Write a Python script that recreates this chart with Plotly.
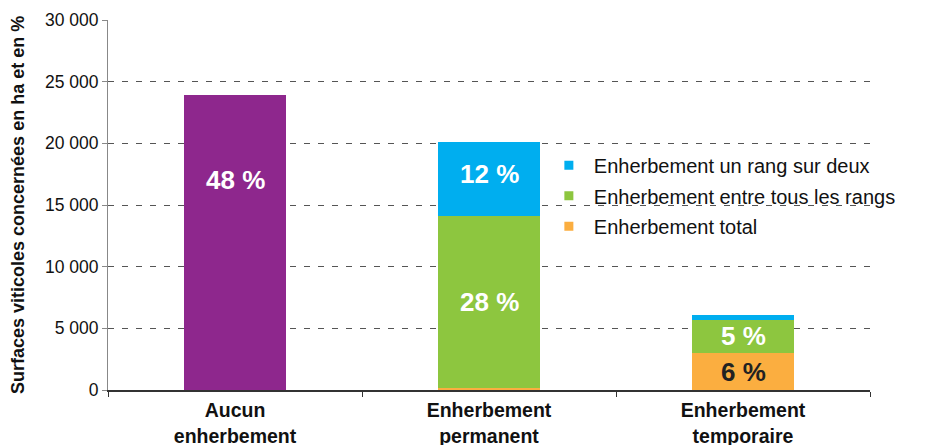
import plotly.graph_objects as go

categories = ["Aucun<br>enherbement", "Enherbement<br>permanent", "Enherbement<br>temporaire"]
aucun = [23900, 0, 0]
total = [0, 200, 3000]
entre_tous = [0, 13900, 2700]
un_sur_deux = [0, 6000, 400]
pct_aucun = ["48 %", "", ""]
pct_total = ["", "", "6 %"]
pct_entre = ["", "28 %", "5 %"]
pct_un = ["", "12 %", ""]
y_ticks = [0, 5000, 10000, 15000, 20000, 25000, 30000]
y_ticklabels = ["0", "5 000", "10 000", "15 000", "20 000", "25 000", "30 000"]

PURPLE = "#8E278D"
BLUE = "#00AEEF"
GREEN = "#8DC63F"
ORANGE = "#FBAE40"
FONT = "Arial"

fig = go.Figure()
for vals, color in [(aucun, PURPLE), (total, ORANGE), (entre_tous, GREEN), (un_sur_deux, BLUE)]:
    fig.add_trace(go.Bar(x=categories, y=vals, marker=dict(color=color, line=dict(width=0)),
                         width=0.4, showlegend=False, hoverinfo="skip"))

for i, (name, color) in enumerate([("Enherbement un rang sur deux", BLUE),
                                   ("Enherbement entre tous les rangs", GREEN),
                                   ("Enherbement total", ORANGE)]):
    fig.add_trace(go.Scatter(x=[None], y=[None], mode="markers", name=name,
                             legendgroup="g%d" % i,
                             marker=dict(symbol="square", size=9, color=color)))

annotations = []
for i, c in enumerate(categories):
    base = 0
    segs = [(aucun, pct_aucun, "white"), (total, pct_total, "#222222"),
            (entre_tous, pct_entre, "white"), (un_sur_deux, pct_un, "white")]
    for vals, labels, col in segs:
        v = vals[i]
        if labels[i]:
            shift = 63 if labels is pct_aucun else (5 if labels is pct_un else 0)
            annotations.append(dict(x=c, y=base + v / 2, text="<b>%s</b>" % labels[i],
                                    showarrow=False, yshift=shift,
                                    font=dict(family=FONT, size=26, color=col)))
        base += v

annotations.append(dict(x=0, y=0.5, xref="paper", yref="paper", xshift=-90,
                        xanchor="center", yanchor="middle",
                        text="<b>Surfaces viticoles concernées en ha et en %</b>",
                        textangle=-90, showarrow=False,
                        font=dict(family=FONT, size=18, color="#111111")))

fig.update_layout(
    barmode="stack",
    width=925, height=445,
    margin=dict(l=108, r=55, t=20, b=55),
    paper_bgcolor="white", plot_bgcolor="white",
    font=dict(family=FONT, color="#111111"),
    annotations=annotations,
    legend=dict(x=0.572, y=0.66, xanchor="left", yanchor="top", traceorder="grouped",
                font=dict(family=FONT, size=20, color="#111111"),
                bgcolor="rgba(0,0,0,0)", itemwidth=40, tracegroupgap=1.5),
    xaxis=dict(showline=True, linecolor="#333333", linewidth=1.5, ticks="outside",
               tickson="boundaries", ticklen=5, tickcolor="#333333",
               tickvals=categories,
               ticktext=["<br>".join("<b>%s</b>" % p for p in c.split("<br>")) for c in categories],
               tickfont=dict(family=FONT, size=19.5, color="#111111"),
               ticklabelstandoff=2,
               showgrid=False, fixedrange=True, automargin=False),
    yaxis=dict(range=[0, 30000], tickvals=y_ticks, ticktext=y_ticklabels,
               showline=True, linecolor="#888888", linewidth=1, ticks="outside",
               ticklen=5, tickcolor="#888888",
               tickfont=dict(family=FONT, size=17.5, color="#111111"),
               showgrid=True, gridcolor="#555555", gridwidth=1, griddash="6px,8px",
               zeroline=False, automargin=False),
)

fig.write_html("out.html")
